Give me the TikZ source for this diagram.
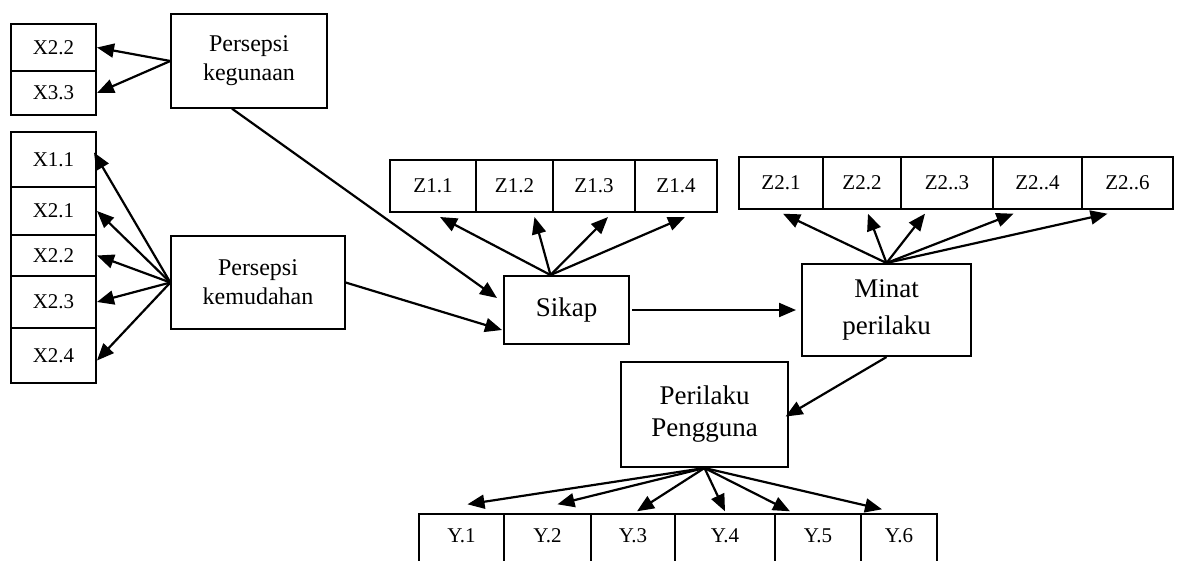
\documentclass[tikz,border=0pt]{standalone}
\usepackage{fontspec}
\setmainfont{Liberation Serif}
\usetikzlibrary{arrows.meta,calc}

\begin{document}
\begin{tikzpicture}[
    % Environment Config
    x=1pt, y=-1pt,
    font=\fontsize{21}{25}\selectfont,
    MyArrow/.style={% Style for the paths
      -{Triangle[length=17pt 0,width=14pt 0]},
      line width=2.2pt
    },
    Ind/.style={% Style for the indicator boxes
      draw,
      line width=2pt,
      inner sep=0pt
    },
    ThinInd/.style={% Thinner indicator boxes
      Ind,
      line width=1.4pt
    },
    Var/.style={% Style for the variables
      draw,
      line width=1.3pt,
      align=center,
      inner sep=0pt,
      font=\fontsize{24}{29}\selectfont
    },
    BigVar/.style={% Style for the main variables
      Var,
      line width=2pt,
      font=\fontsize{27}{32}\selectfont
    }
  ]

  \useasboundingbox (0,0) rectangle (1177,560);

  % Put the variables in position
  \node[Var, minimum width=156pt, minimum height=94pt] (Kegunaan) at (249,61) {Persepsi\\kegunaan};
  \node[Var, minimum width=174pt, minimum height=93pt] (Kemudahan) at (258,282.5) {Persepsi\\kemudahan};
  \node[BigVar, minimum width=125pt, minimum height=68pt] (Sikap) at (566.5,310) {Sikap};
  \node[BigVar, minimum width=169pt, minimum height=92pt] (Minat) at (886.5,310) {Minat\\[5pt]perilaku};
  \node[BigVar, minimum width=167pt, minimum height=105pt] (Perilaku) at (704.5,414.5) {Perilaku\\Pengguna};

  % Put the indicators of the perceptions
  \node[Ind, minimum width=85pt, minimum height=47pt] (X22a) at (53.5,47.5) {X2.2};
  \node[Ind, minimum width=85pt, minimum height=44pt] (X33) at (53.5,93) {X3.3};
  \node[Ind, minimum width=85pt, minimum height=55pt] (X11) at (53.5,159.5) {X1.1};
  \node[Ind, minimum width=85pt, minimum height=48pt] (X21) at (53.5,211) {X2.1};
  \node[Ind, minimum width=85pt, minimum height=41pt] (X22b) at (53.5,255.5) {X2.2};
  \node[Ind, minimum width=85pt, minimum height=52pt] (X23) at (53.5,302) {X2.3};
  \node[Ind, minimum width=85pt, minimum height=55pt] (X24) at (53.5,355.5) {X2.4};

  % Put the indicators of Sikap and Minat
  \node[Ind, minimum width=86pt, minimum height=52pt] (Z11) at (433,186) {Z1.1};
  \node[Ind, minimum width=77pt, minimum height=52pt] (Z12) at (514.5,186) {Z1.2};
  \node[Ind, minimum width=82pt, minimum height=52pt] (Z13) at (594,186) {Z1.3};
  \node[Ind, minimum width=82pt, minimum height=52pt] (Z14) at (676,186) {Z1.4};
  \node[ThinInd, minimum width=84pt, minimum height=52pt] (Z21) at (781,183) {Z2.1};
  \node[ThinInd, minimum width=78pt, minimum height=52pt] (Z22) at (862,183) {Z2.2};
  \node[ThinInd, minimum width=92pt, minimum height=52pt] (Z23) at (947,183) {Z2..3};
  \node[ThinInd, minimum width=89pt, minimum height=52pt] (Z24) at (1037.5,183) {Z2..4};
  \node[ThinInd, minimum width=91pt, minimum height=52pt] (Z25) at (1127.5,183) {Z2..6};

  % Put the indicators of Perilaku Pengguna
  \node[ThinInd, minimum width=85pt, minimum height=50pt, text depth=6pt] (Y1) at (461.5,539) {Y.1};
  \node[ThinInd, minimum width=87pt, minimum height=50pt, text depth=6pt] (Y2) at (547.5,539) {Y.2};
  \node[ThinInd, minimum width=84pt, minimum height=50pt, text depth=6pt] (Y3) at (633,539) {Y.3};
  \node[ThinInd, minimum width=100pt, minimum height=50pt, text depth=6pt] (Y4) at (725,539) {Y.4};
  \node[ThinInd, minimum width=86pt, minimum height=50pt, text depth=6pt] (Y5) at (818,539) {Y.5};
  \node[ThinInd, minimum width=76pt, minimum height=50pt, text depth=6pt] (Y6) at (899,539) {Y.6};

  % Draw the paths between the variables
  \draw[MyArrow] ($(Kegunaan.south)+(-17,0)$) -- ($(Sikap.west)+(-6,-12)$);
  \draw[MyArrow] (Kemudahan.east) -- ($(Sikap.west)+(-1,20)$);
  \draw[MyArrow, shorten >=5pt, shorten <=2pt] (Sikap.east) -- (Minat.west);
  \draw[MyArrow, shorten >=-4pt] (Minat.south) -- (Perilaku.east);

  % Draw the loadings
  %===Persepsi kegunaan===
  \draw[MyArrow] (Kegunaan.west) -- (X22a.east);
  \draw[MyArrow] (Kegunaan.west) -- (X33.east);

  %===Persepsi kemudahan===
  \draw[MyArrow] (Kemudahan.west) -- ($(X11.east)+(-3,-7)$);
  \draw[MyArrow] (Kemudahan.west) -- (X21.east);
  \draw[MyArrow] (Kemudahan.west) -- (X22b.east);
  \draw[MyArrow] (Kemudahan.west) -- (X23.east);
  \draw[MyArrow] (Kemudahan.west) -- ($(X24.east)+(0,5)$);

  %===Sikap===
  \draw[MyArrow] ($(Sikap.north)+(-16,0)$) -- ($(Z11.south)+(7,4)$);
  \draw[MyArrow] ($(Sikap.north)+(-16,0)$) -- ($(Z12.south)+(20,4)$);
  \draw[MyArrow] ($(Sikap.north)+(-16,0)$) -- ($(Z13.south)+(14,4)$);
  \draw[MyArrow] ($(Sikap.north)+(-16,0)$) -- ($(Z14.south)+(9,4)$);

  %===Minat perilaku===
  \draw[MyArrow] (Minat.north) -- ($(Z21.south)+(2,4)$);
  \draw[MyArrow] (Minat.north) -- ($(Z22.south)+(6,4)$);
  \draw[MyArrow] (Minat.north) -- ($(Z23.south)+(-22,4)$);
  \draw[MyArrow] (Minat.north) -- ($(Z24.south)+(-24,4)$);
  \draw[MyArrow] (Minat.north) -- ($(Z25.south)+(-20,4)$);

  %===Perilaku Pengguna===
  \draw[MyArrow] (Perilaku.south) -- ($(Y1.north)+(6,-9)$);
  \draw[MyArrow] (Perilaku.south) -- ($(Y2.north)+(10,-9)$);
  \draw[MyArrow] (Perilaku.south) -- ($(Y3.north)+(4,-2)$);
  \draw[MyArrow] (Perilaku.south) -- ($(Y4.north)+(0,-2)$);
  \draw[MyArrow] (Perilaku.south) -- ($(Y5.north)+(-28,-2)$);
  \draw[MyArrow] (Perilaku.south) -- ($(Y6.north)+(-17,-4)$);

\end{tikzpicture}
\end{document}
